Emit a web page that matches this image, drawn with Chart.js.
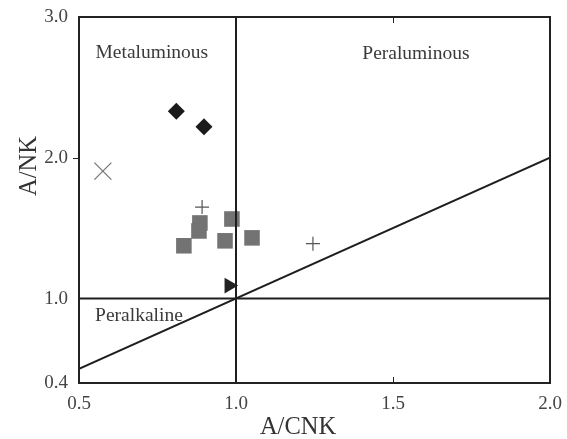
<!DOCTYPE html>
<html>
<head>
<meta charset="utf-8">
<script src="https://cdn.jsdelivr.net/npm/chart.js@4/dist/chart.umd.min.js"></script>
<style>
  html, body { margin: 0; padding: 0; background: #fff; }
  canvas { display: block; }
</style>
</head>
<body>
<canvas id="c" width="567" height="439"></canvas>
<script>
// ---- data ----
const diamondX = [0.81, 0.898];
const diamondY = [2.33, 2.22];
const squareX = [0.834, 0.885, 0.882, 0.987, 0.965, 1.051];
const squareY = [1.375, 1.537, 1.48, 1.565, 1.41, 1.431];
const plusX = [0.892, 1.245];
const plusY = [1.65, 1.39];
const crossX = [0.576];
const crossY = [1.905];
const triangleX = [0.978];
const triangleY = [1.092];

// boundary lines
const vLineX = [1.0, 1.0];
const vLineY = [0.4, 3.0];
const hLineX = [0.5, 2.0];
const hLineY = [1.0, 1.0];
const diagX = [0.5, 2.0];
const diagY = [0.5, 2.0];

// axes
const xTicks = [0.5, 1.0, 1.5, 2.0];
const yTicks = [0.4, 1.0, 2.0, 3.0];
const xTitle = 'A/CNK';
const yTitle = 'A/NK';

// field labels
const regionLabels = ['Metaluminous', 'Peraluminous', 'Peralkaline'];
const regionX = [0.732, 1.573, 0.691];
const regionY = [2.745, 2.74, 0.88];

// minor tick marks seen on the frame
const xMarkTicks = [1.5];
const yMarkTicks = [2.0];

const pts = (xs, ys) => xs.map((x, i) => ({x: x, y: ys[i]}));
const FONT = "'Liberation Serif', 'Times New Roman', serif";

const framePlugin = {
  id: 'frame',
  afterDatasetsDraw(chart) {
    const ctx = chart.ctx;
    const a = chart.chartArea;
    const xs = chart.scales.x, ys = chart.scales.y;
    ctx.save();
    ctx.strokeStyle = '#222';
    ctx.lineWidth = 2;
    ctx.strokeRect(a.left, a.top, a.right - a.left, a.bottom - a.top);
    ctx.lineWidth = 1;
    ctx.beginPath();
    xMarkTicks.forEach(v => {
      const px = Math.round(xs.getPixelForValue(v)) + 0.5;
      ctx.moveTo(px, a.bottom); ctx.lineTo(px, a.bottom - 6);
      ctx.moveTo(px, a.top); ctx.lineTo(px, a.top + 6);
    });
    yMarkTicks.forEach(v => {
      const py = Math.round(ys.getPixelForValue(v)) + 0.5;
      ctx.moveTo(a.left, py); ctx.lineTo(a.left - 6, py);
    });
    ctx.stroke();

    // region labels
    ctx.fillStyle = '#3a3a3a';
    ctx.font = "19.5px " + FONT;
    ctx.textAlign = 'center';
    ctx.textBaseline = 'middle';
    regionLabels.forEach((t, i) => {
      ctx.fillText(t, xs.getPixelForValue(regionX[i]), ys.getPixelForValue(regionY[i]));
    });

    // axis titles
    ctx.fillStyle = '#333';
    ctx.font = "24.5px " + FONT;
    ctx.fillText(xTitle, 298, 428);
    ctx.save();
    ctx.translate(30, 166);
    ctx.rotate(-Math.PI / 2);
    ctx.fillText(yTitle, 0, 0);
    ctx.restore();
    ctx.restore();
  }
};

const lineStyle = {
  type: 'line', showLine: true, borderColor: '#1e1e1e', borderWidth: 2,
  pointRadius: 0, fill: false, order: 0, tension: 0
};

new Chart(document.getElementById('c'), {
  type: 'scatter',
  data: {
    datasets: [
      Object.assign({label: 'vline', data: pts(vLineX, vLineY)}, lineStyle),
      Object.assign({label: 'hline', data: pts(hLineX, hLineY)}, lineStyle),
      Object.assign({label: 'diag', data: pts(diagX, diagY)}, lineStyle),
      { label: 'squares', data: pts(squareX, squareY), pointStyle: 'rect', pointRadius: 11,
        backgroundColor: '#737373', borderColor: '#737373', borderWidth: 0, order: 2 },
      { label: 'diamonds', data: pts(diamondX, diamondY), pointStyle: 'rectRot', pointRadius: 8.5,
        backgroundColor: '#1a1a1a', borderColor: '#1a1a1a', borderWidth: 0, order: 1 },
      { label: 'plus', data: pts(plusX, plusY), pointStyle: 'cross', pointRadius: 7,
        borderColor: '#555', borderWidth: 1.2, order: 1 },
      { label: 'cross', data: pts(crossX, crossY), pointStyle: 'crossRot', pointRadius: 12,
        borderColor: '#777', borderWidth: 1.3, order: 1 },
      { label: 'triangle', data: pts(triangleX, triangleY), pointStyle: 'triangle', rotation: 90,
        pointRadius: 9, backgroundColor: '#222', borderColor: '#222', borderWidth: 0, order: 1 }
    ]
  },
  options: {
    responsive: false,
    animation: false,
    layout: { padding: { top: 17, right: 17, left: 0, bottom: 0 } },
    plugins: { legend: { display: false }, tooltip: { enabled: false } },
    scales: {
      x: {
        type: 'linear', min: 0.5, max: 2.0,
        grid: { display: false, drawTicks: false },
        border: { display: false },
        afterBuildTicks: s => { s.ticks = xTicks.map(v => ({value: v})); },
        afterFit: s => { s.height = 56; s.paddingLeft = 0; s.paddingRight = 0; },
        ticks: { padding: 10, color: '#444', font: { family: FONT, size: 19 },
                 maxRotation: 0, callback: v => Number(v).toFixed(1) }
      },
      y: {
        type: 'linear', min: 0.4, max: 3.0,
        grid: { display: false, drawTicks: false },
        border: { display: false },
        afterBuildTicks: s => { s.ticks = yTicks.map(v => ({value: v})); },
        afterFit: s => { s.width = 79; s.paddingTop = 0; s.paddingBottom = 0; },
        ticks: { padding: 11, color: '#444', font: { family: FONT, size: 19 },
                 callback: v => Number(v).toFixed(1) }
      }
    }
  },
  plugins: [framePlugin]
});
</script>
</body>
</html>
